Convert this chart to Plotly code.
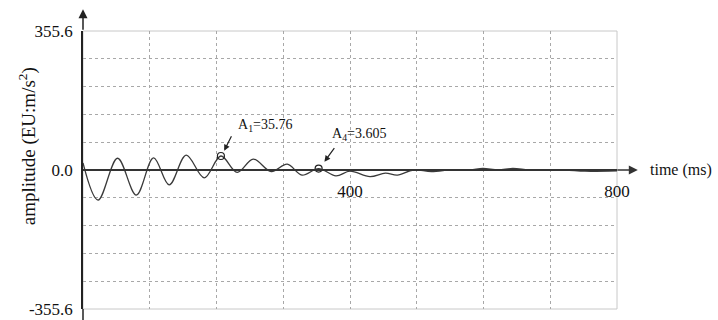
import plotly.graph_objects as go

# Waveform: time (ms) and amplitude (EU:m/s^2) at extrema
t_ms = [0, 22.5, 51.8, 79.8, 105.7, 129.2, 154.6, 181.6, 206.6, 231, 255, 282, 306, 328,
        353, 379, 400, 430, 453, 471, 495, 522, 554, 580, 599, 622, 644, 667, 689, 722, 752, 800]
amp = [18, -77, 30, -64, 31, -38, 38, -20, 35.76, -6, 28, -4, 15, -13,
       3.605, -15, -3, -17, -8, -13, 0, -4, 1, 0, 4, 0, 4, 0, -1, 0, -3, -2]

peak_t = [206.6, 353]
peak_v = [35.76, 3.605]
peak_names = ["A<sub>1</sub>=35.76", "A<sub>4</sub>=3.605"]

y_lim = 355.6
x_grid = [0, 100, 200, 300, 400, 500, 600, 700, 800]
x_labels = ["", "", "", "", "400", "", "", "", "800"]
y_grid = [round(-y_lim + i * y_lim / 5, 2) for i in range(11)]
y_labels = ["-355.6", "", "", "", "", "0.0", "", "", "", "", "355.6"]

FONT = "Liberation Serif"

fig = go.Figure()
fig.add_trace(go.Scatter(x=t_ms, y=amp, mode="lines", line=dict(color="#3a3a3a", width=1.3, shape="spline", smoothing=1.0),
                         hoverinfo="skip", showlegend=False))
fig.add_trace(go.Scatter(x=peak_t, y=peak_v, mode="markers",
                         marker=dict(symbol="circle-open", size=7, color="#222", line=dict(width=1.2)),
                         showlegend=False))

fig.update_layout(
    width=718, height=320,
    margin=dict(l=83, r=101, t=31, b=11, autoexpand=False),
    paper_bgcolor="white", plot_bgcolor="white",
    font=dict(family=FONT, color="#111"),
    xaxis=dict(range=[0, 800], tickvals=x_grid, ticktext=x_labels, automargin=False,
               showgrid=True, gridcolor="#a8a8a8", griddash="dot", gridwidth=1,
               zeroline=False, showline=True, linecolor="#333", linewidth=2,
               anchor="free", position=0.5, ticks="", ticklabelstandoff=6,
               tickfont=dict(size=17, family=FONT, color="#111")),
    yaxis=dict(range=[-y_lim, y_lim], tickvals=y_grid, ticktext=y_labels, automargin=False,
               showgrid=True, gridcolor="#a8a8a8", griddash="dot", gridwidth=1,
               zeroline=False, showline=True, linecolor="#222", linewidth=1.5,
               ticks="", ticklabelstandoff=5,
               tickfont=dict(size=17, family=FONT, color="#111")),
)

# light plot border (top / right / bottom)
fig.add_shape(type="rect", xref="paper", yref="paper", x0=0, x1=1, y0=0, y1=1,
              line=dict(color="#c8c8c8", width=1), layer="below")
# y axis extension below plot
fig.add_shape(type="line", xref="paper", yref="paper", x0=0, x1=0, y0=-0.05, y1=0,
              line=dict(color="#222", width=1.5))

# axis arrows
fig.add_annotation(xref="paper", yref="paper", x=0, y=1.078, ax=0, ay=22, text="",
                   showarrow=True, arrowhead=2, arrowsize=1.2, arrowwidth=1.5, arrowcolor="#222")
fig.add_annotation(xref="paper", yref="y", x=1.039, y=0, ax=-22, ay=0, text="",
                   showarrow=True, arrowhead=2, arrowsize=1.2, arrowwidth=1.5, arrowcolor="#333")

# axis titles
fig.add_annotation(xref="paper", yref="y", x=1.058, y=0, text="time (ms)", showarrow=False,
                   xanchor="left", yanchor="middle", font=dict(size=16, family=FONT, color="#111"))
fig.add_annotation(xref="paper", yref="paper", x=-0.105, y=0.585, text="amplitude (EU:m/s<sup>2</sup>)",
                   showarrow=False, textangle=-90, xanchor="center", yanchor="middle",
                   font=dict(size=19, family=FONT, color="#111"))

# peak labels with arrows
arrow_heads = [(211.5, 49.4, 8, -16), (361.7, 21.2, 11, -15)]
for (hx, hy, ax, ay) in arrow_heads:
    fig.add_annotation(x=hx, y=hy, ax=ax, ay=ay, text="", showarrow=True,
                       arrowhead=2, arrowsize=1, arrowwidth=1.2, arrowcolor="#222")
label_pos = [(229.5, 112.6), (370, 92)]
for (lx, ly), name in zip(label_pos, peak_names):
    fig.add_annotation(x=lx, y=ly, text=name, showarrow=False, xanchor="left", yanchor="middle",
                       font=dict(size=14, family=FONT, color="#111"))

fig.write_html("out.html")
